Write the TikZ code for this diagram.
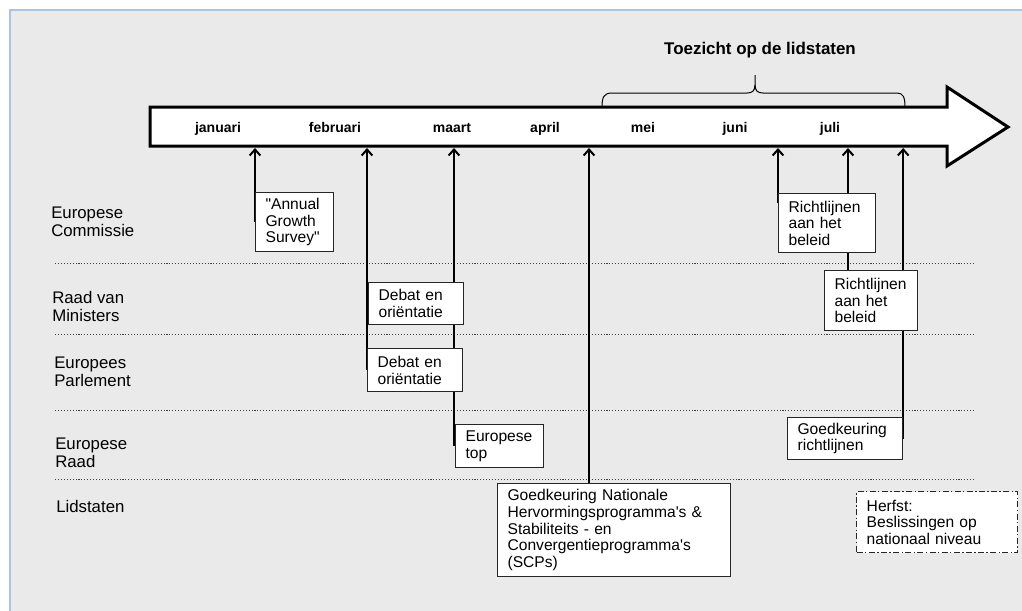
\documentclass[tikz,border=0pt]{standalone}
\usepackage{fontspec}
\setmainfont{Liberation Sans}[Ligatures=TeXOff]
\usetikzlibrary{arrows.meta}

\definecolor{achtergrond}{HTML}{EAEAEA}
\definecolor{rand}{HTML}{A7C3E6}

\pgfdeclarelayer{grond}
\pgfdeclarelayer{lijnen}
\pgfsetlayers{grond,lijnen,main}

\tikzset{
  blok/.style={draw=black!85, line width=0.9pt, fill=white, anchor=north west,
    align=left, inner xsep=7.5pt, inner ysep=1pt, font=\fontsize{11.7}{12.5}\selectfont},
  herfstblok/.style={blok, line width=1.1pt, dash pattern={on 4.5pt off 1.8pt on 1pt off 1.8pt}},
  orgaan/.style={anchor=west, align=left, inner sep=0pt, font=\fontsize{12.6}{13.5}\selectfont},
  maand/.style={anchor=base, inner sep=0pt, font=\fontsize{10.5}{12}\selectfont\bfseries},
  pijl/.style={line width=1.5pt, -{Straight Barb[length=4.5pt,width=8pt]}},
  scheiding/.style={line width=0.6pt, black!75, dash pattern={on 0.8pt off 1.4pt}},
}

\begin{document}
\begin{tikzpicture}[x=0.75pt,y=0.75pt,yscale=-1,xscale=1]
\useasboundingbox (0,0) rectangle (1022,611);

% achtergrond
\begin{pgfonlayer}{grond}
\fill[achtergrond] (10,10) rectangle (1022,611);
\draw[rand, line width=1.5pt] (10,611) -- (10,10) -- (1022,10);
\end{pgfonlayer}

% tijdlijn
\draw[line width=2.25pt, fill=white, line join=miter] (150,107) -- (947,107) -- (947,87) -- (1008,127) -- (947,166) -- (947,146) -- (150,146) -- cycle;
\coordinate (onder) at (150,148);

\foreach \m/\x in {januari/218, februari/335, maart/452, april/545, mei/643, juni/735, juli/830}
  \node[maand] (m-\m) at (\x,132.5) {\m};

% accolade
\draw[line width=0.75pt] (602,107) .. controls (602,97) and (604,93) .. (612,93) -- (747,93) .. controls (752,93) and (755,91) .. (755,85) -- (755,75);
\draw[line width=0.75pt] (755,85) .. controls (755,91) and (758,93) .. (763,93) -- (897,93) .. controls (903,93) and (905,97) .. (905,107);
\node[font=\fontsize{12.7}{15}\selectfont\bfseries] (titel) at (760,50) {Toezicht op de lidstaten};

% Text Node
\node[orgaan] (ec) at (51,222) {Europese\\Commissie};
\node[orgaan] (rvm) at (52,306.5) {Raad van\\Ministers};
\node[orgaan] (ep) at (54,371.5) {Europees\\Parlement};
\node[orgaan] (er) at (55,452.5) {Europese\\Raad};
\node[orgaan] (lid) at (56,506) {Lidstaten};

% blokken
\node[blok, text width=43.5pt, minimum height=44.25pt] (ags) at (255,192) {"Annual\\Growth\\Survey"};
\node[blok, text width=56.25pt, minimum height=31.5pt] (deb1) at (368,282) {Debat en\\oriëntatie};
\node[blok, text width=56.25pt, minimum height=32.25pt] (deb2) at (367,348) {Debat en\\oriëntatie};
\node[blok, text width=51pt, minimum height=32.25pt] (top) at (455,424) {Europese\\top};
\node[blok, text width=159.75pt, minimum height=69.75pt] (nat) at (497,483) {Goedkeuring Nationale\\Hervormingsprogramma's \&\\Stabiliteits - en\\Convergentieprogramma's\\(SCPs)};
\node[blok, text width=57.75pt, minimum height=44.25pt] (ric1) at (778,193) {Richtlijnen\\aan het\\beleid};
\node[blok, text width=54.75pt, minimum height=45pt] (ric2) at (824,270) {Richtlijnen\\aan het\\beleid};
\node[blok, text width=71.25pt, minimum height=31.5pt] (goed) at (787,417) {Goedkeuring\\richtlijnen};
\node[herfstblok, text width=105.75pt, minimum height=45.75pt] (herfst) at (856,491) {Herfst:\\Beslissingen op\\nationaal niveau};

% scheidingslijnen en pijlen
\begin{pgfonlayer}{lijnen}
\foreach \y in {263,334,410,479}
  \draw[scheiding] (55,\y) -- (975,\y);
\draw[pijl] (ags.west) -- (ags.west |- onder);
\draw[pijl] (deb2.west) -- (deb2.west |- onder);
\draw[pijl] ([xshift=-0.75pt]top.west) -- ([xshift=-0.75pt]top.west |- onder);
\draw[pijl] ([xshift=69pt]nat.north west) -- ([xshift=69pt]nat.north west |- onder);
\draw[pijl] ([yshift=7.5pt]ric1.north west) -- (ric1.north west |- onder);
\draw[pijl] ([xshift=18pt]ric2.north west) -- ([xshift=18pt]ric2.north west |- onder);
\draw[pijl] (goed.east) -- (goed.east |- onder);
\end{pgfonlayer}

\end{tikzpicture}
\end{document}
